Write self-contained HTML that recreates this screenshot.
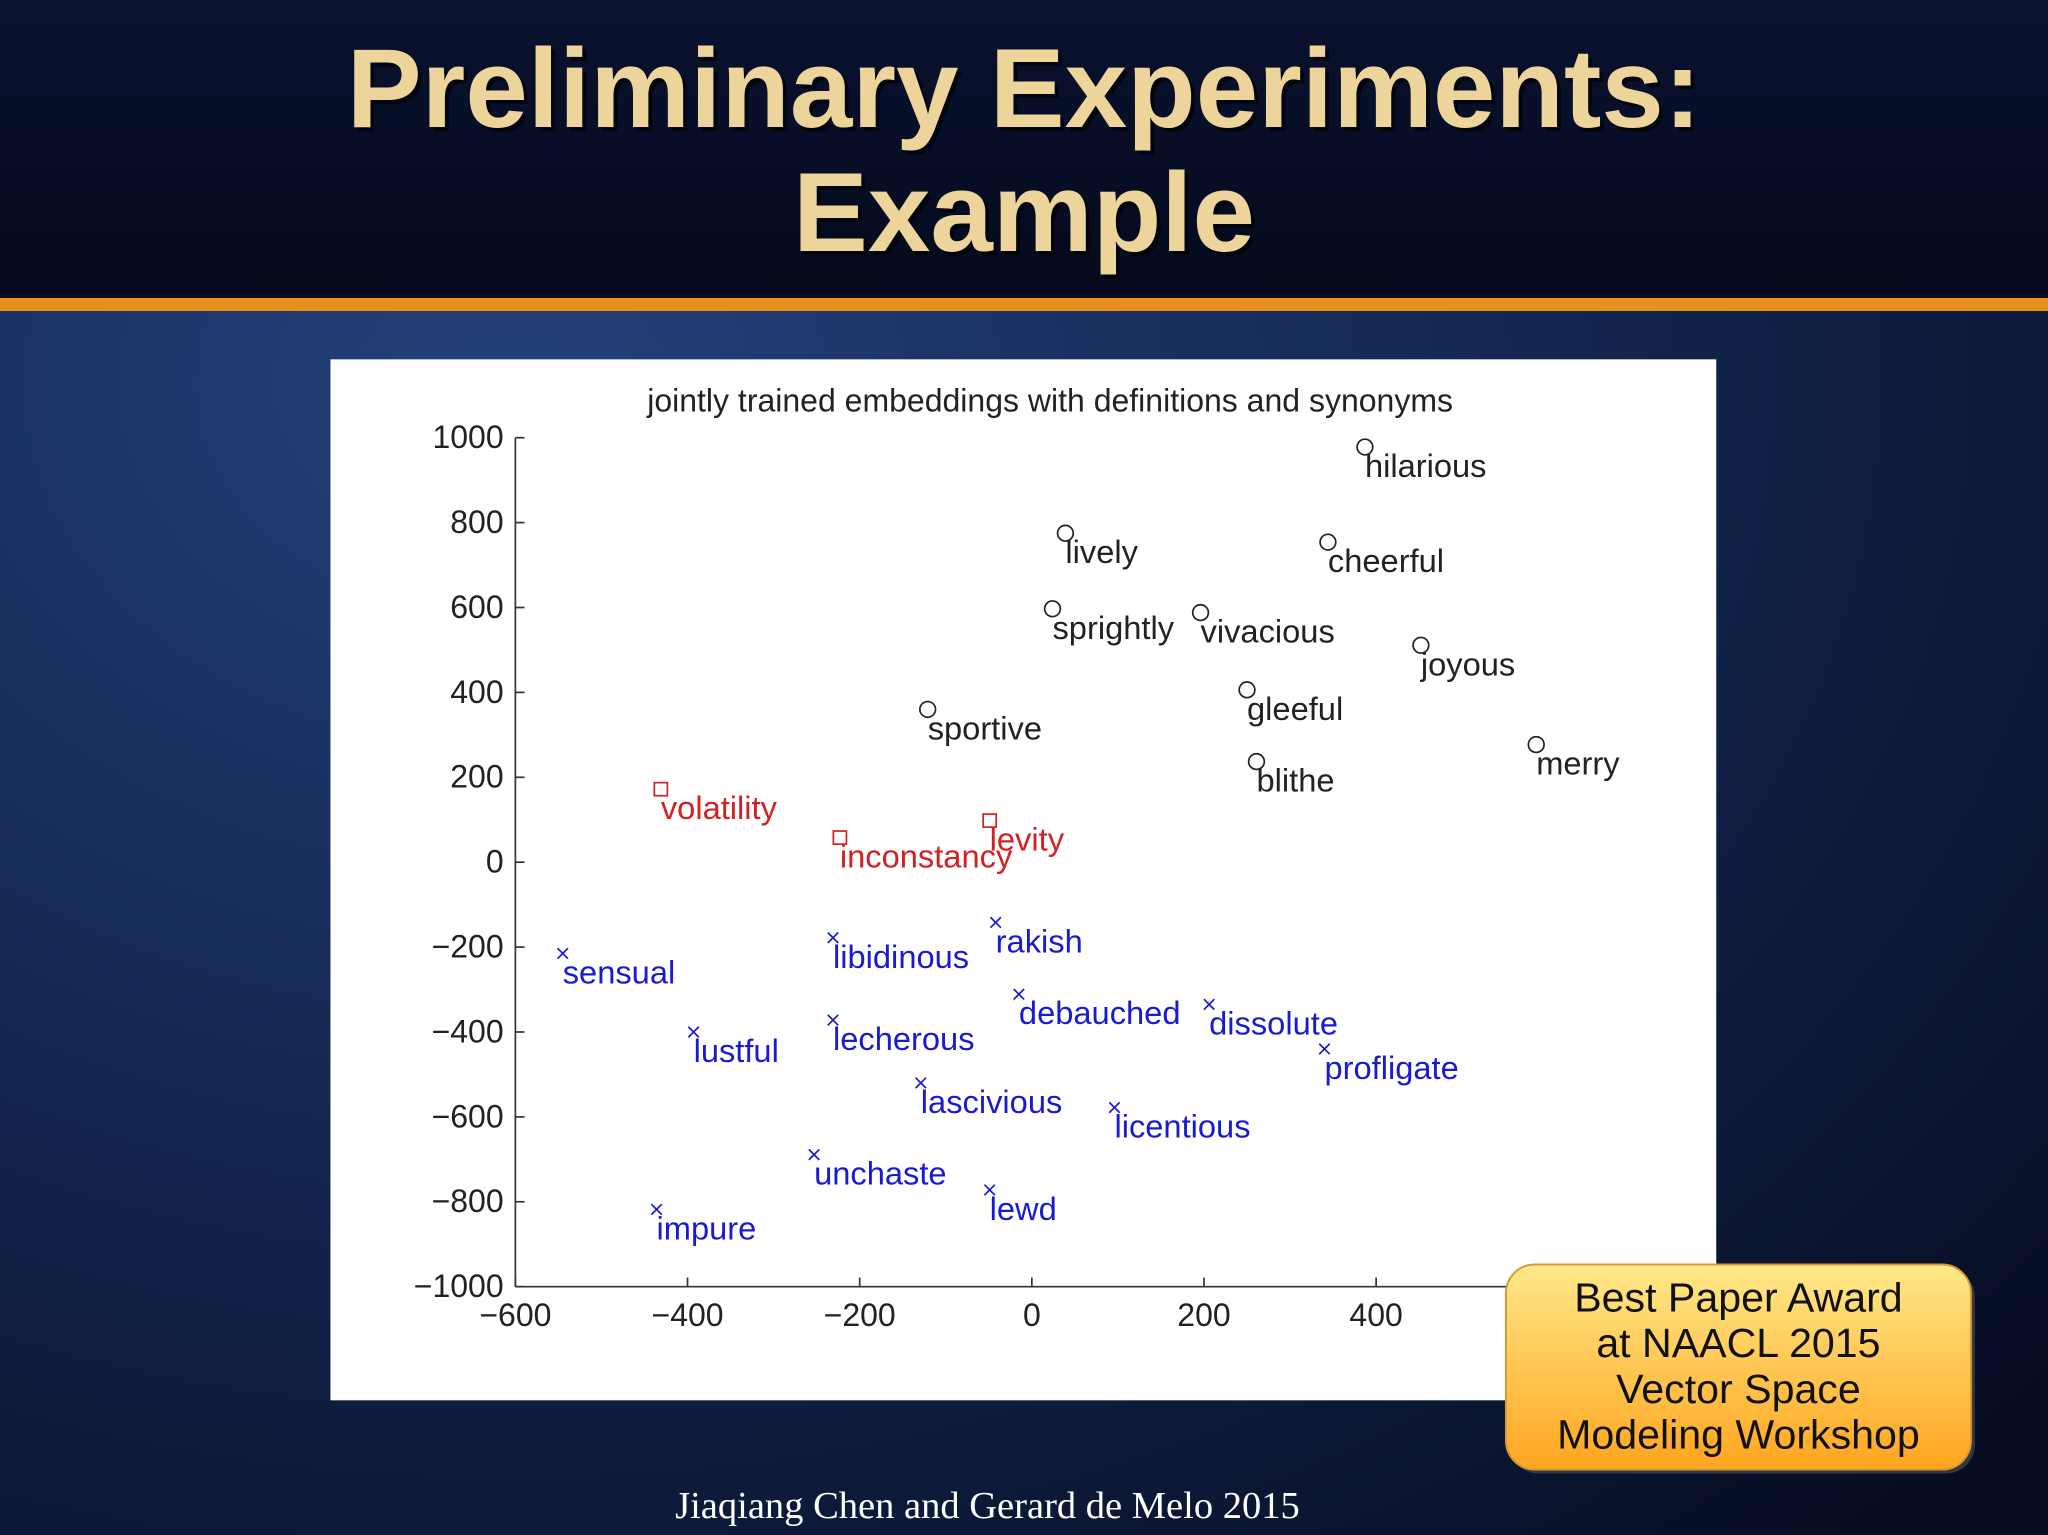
<!DOCTYPE html>
<html><head><meta charset="utf-8"><style>
html,body{margin:0;padding:0;background:#0a1433;}
svg{display:block}
</style></head><body>
<svg width="2048" height="1535" viewBox="0 0 1568 1175" xmlns="http://www.w3.org/2000/svg" font-family="Liberation Sans, sans-serif">
<defs>
<radialGradient id="bg" cx="0.25" cy="0.25" r="1">
<stop offset="0" stop-color="#23417a"/><stop offset="0.5" stop-color="#132650"/><stop offset="1" stop-color="#070d22"/>
</radialGradient>
<linearGradient id="hdr" x1="0" y1="0" x2="0" y2="1"><stop offset="0" stop-color="#0a1230"/><stop offset="1" stop-color="#050a1c"/></linearGradient>
<linearGradient id="badge" x1="0" y1="0" x2="0" y2="1"><stop offset="0" stop-color="#ffe98a"/><stop offset="1" stop-color="#ffa51f"/></linearGradient>
</defs>
<rect x="0" y="0" width="1568" height="1175" fill="url(#bg)"/>
<rect x="0" y="0" width="1568" height="228" fill="url(#hdr)"/>
<rect x="0" y="228" width="1568" height="10" fill="#e8901e"/>
<g font-weight="bold" font-size="86" fill="#ecd49a" text-anchor="middle">
<text x="784" y="97" fill="#000" opacity="0.6" dx="3" dy="3">Preliminary Experiments:</text>
<text x="784" y="97">Preliminary Experiments:</text>
<text x="784" y="192" fill="#000" opacity="0.6" dx="3" dy="3">Example</text>
<text x="784" y="192">Example</text>
</g>
<rect x="253" y="275" width="1061" height="797" fill="#fff"/>
<text x="804" y="315" font-size="24.5" text-anchor="middle" fill="#222">jointly trained embeddings with definitions and synonyms</text>
<g id="axes" stroke="#333" stroke-width="1.3" fill="none"></g>
<g id="ticks" font-size="24.5" fill="#222"></g>
<g id="marks"></g>
<g>
<rect x="1156" y="971" width="356" height="157" rx="22" fill="#555" opacity="0.6"/>
<rect x="1153" y="968" width="356" height="157" rx="22" fill="url(#badge)" stroke="#d89a30" stroke-width="1.5"/>
<g font-size="31.5" fill="#111" text-anchor="middle">
<text x="1331" y="1004">Best Paper Award</text>
<text x="1331" y="1039">at NAACL 2015</text>
<text x="1331" y="1074">Vector Space</text>
<text x="1331" y="1109">Modeling Workshop</text>
</g></g>
<text x="756" y="1162" font-family="Liberation Serif, serif" font-size="29.5" fill="#fff" text-anchor="middle">Jiaqiang Chen and Gerard de Melo 2015</text>
</svg>
<script>
const words=["hilarious","lively","cheerful","sprightly","vivacious","joyous","gleeful","sportive","blithe","merry","volatility","inconstancy","levity","sensual","libidinous","rakish","debauched","dissolute","lustful","lecherous","profligate","lascivious","licentious","unchaste","lewd","impure"];
const xs=[387,39,344,24,196,452,250,-121,261,586,-431,-223,-49,-545,-231,-42,-15,206,-393,-231,340,-129,96,-253,-49,-436];
const ys=[978,775,754,597,588,511,406,360,237,277,172,58,98,-215,-178,-142,-311,-335,-400,-372,-440,-520,-578,-689,-772,-818];
const groups=["o","o","o","o","o","o","o","o","o","o","s","s","s","x","x","x","x","x","x","x","x","x","x","x","x","x"];
const xTicks=[-600,-400,-200,0,200,400,600];
const yTicks=[1000,800,600,400,200,0,-200,-400,-600,-800,-1000];
const NS="http://www.w3.org/2000/svg";
const X=v=>790+v*0.659, Y=v=>660-v*0.325;
function mk(t,a,p){const e=document.createElementNS(NS,t);for(const k in a)e.setAttribute(k,a[k]);p.appendChild(e);return e;}
const ax=document.getElementById('axes'),tk=document.getElementById('ticks'),mg=document.getElementById('marks');
const l1=mk('line',{x1:X(-600),y1:Y(1000),x2:X(-600),y2:Y(-1000)},ax);


const l2=mk('line',{x1:X(-600),y1:Y(-1000),x2:X(600),y2:Y(-1000)},ax);


yTicks.forEach(v=>{mk('line',{x1:X(-600),y1:Y(v),x2:X(-600)+7,y2:Y(v)},ax);
const t=mk('text',{x:X(-600)-9,y:Y(v)+8,'text-anchor':'end'},tk);t.textContent=String(v).replace('-','\u2212');

});
xTicks.forEach(v=>{mk('line',{x1:X(v),y1:Y(-1000),x2:X(v),y2:Y(-1000)-7},ax);
const t=mk('text',{x:X(v),y:Y(-1000)+30,'text-anchor':'middle'},tk);t.textContent=String(v).replace('-','\u2212');

});
const col={o:'#222',s:'#d42020',x:'#1a1ad0'};
words.forEach((w,i)=>{const cx=X(xs[i]),cy=Y(ys[i]),g=groups[i],c=col[g];
const grp=mk('g',{},mg);


if(g==='o')mk('circle',{cx,cy,r:6,fill:'none',stroke:c,'stroke-width':1.3},grp);
else if(g==='s')mk('rect',{x:cx-5,y:cy-5,width:10,height:10,fill:'none',stroke:c,'stroke-width':1.3},grp);
else{mk('line',{x1:cx-4,y1:cy-4,x2:cx+4,y2:cy+4,stroke:c,'stroke-width':1.3},grp);mk('line',{x1:cx-4,y1:cy+4,x2:cx+4,y2:cy-4,stroke:c,'stroke-width':1.3},grp);}
const t=mk('text',{x:cx,y:cy+23,'font-size':25,fill:c},grp);t.textContent=w;});
</script>
</body></html>
